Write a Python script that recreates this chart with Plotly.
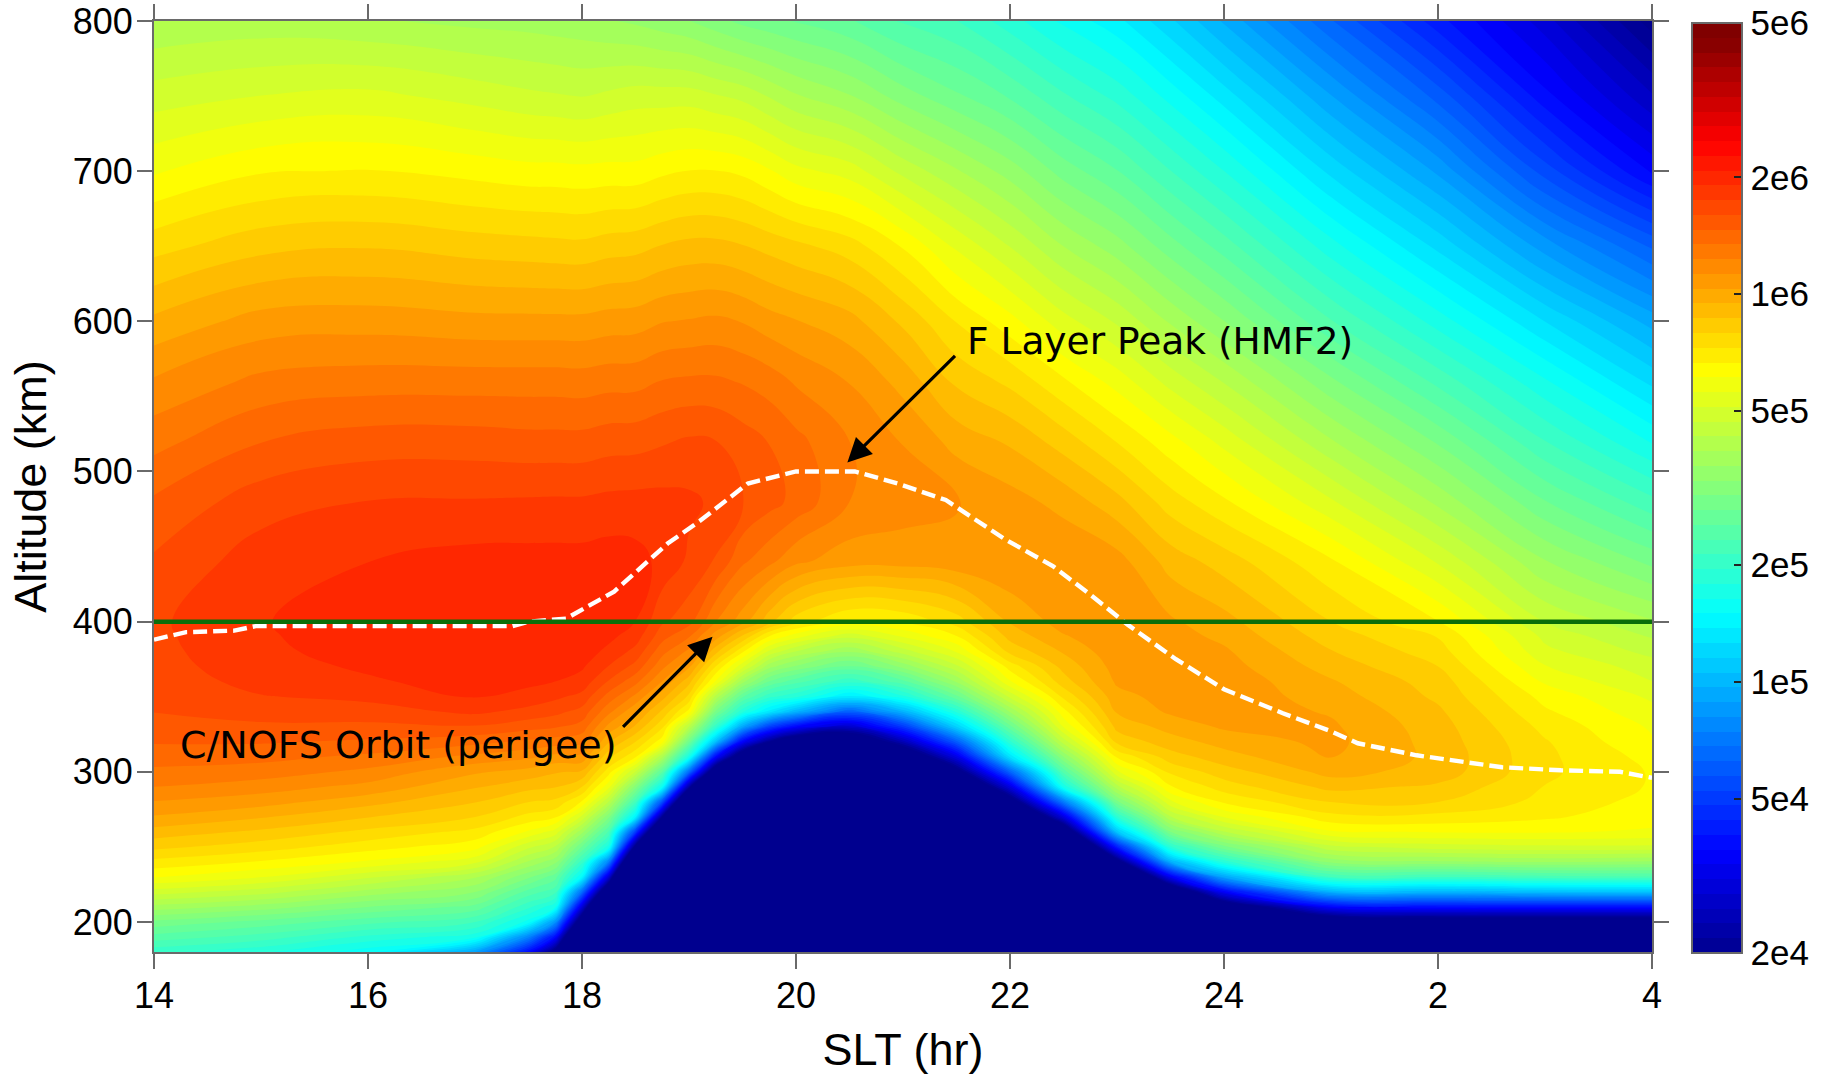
import numpy as np
import plotly.graph_objects as go

# local-time axis (hours after midnight of the first day: 24 = midnight, 26 = 2 h, 28 = 4 h)
slt = [14,15,16,17,17.5,17.75,18,18.25,18.5,18.75,19,19.25,19.5,19.75,20,20.5,21,21.5,22,22.5,23,23.5,24,25,26,27,28]
altitude = [180,190,200,210,220,230,240,250,260,270,280,290,300,310,320,330,340,350,360,370,380,390,400,
            440,480,520,560,600,650,700,750,800]

h14   = [5.30,5.39,5.47,5.58,5.69,5.79,5.85,5.91,5.96,6.01,6.05,6.09,6.12,6.145,6.17,6.19,6.205,6.213,6.22,6.226,6.23,6.233,6.235,6.21,6.172,6.115,6.057,5.985,5.885,5.78,5.69,5.60]
h15   = [5.26,5.35,5.43,5.54,5.65,5.75,5.82,5.88,5.93,5.98,6.03,6.07,6.11,6.14,6.17,6.197,6.22,6.24,6.255,6.265,6.272,6.276,6.278,6.262,6.225,6.165,6.10,6.03,5.925,5.82,5.71,5.61]
h16   = [5.19,5.28,5.38,5.48,5.58,5.68,5.78,5.84,5.89,5.94,5.99,6.04,6.08,6.12,6.16,6.195,6.225,6.252,6.275,6.286,6.295,6.298,6.30,6.28,6.243,6.185,6.11,6.035,5.935,5.826,5.72,5.60]
h17   = [4.95,5.23,5.33,5.43,5.52,5.60,5.72,5.80,5.85,5.90,5.94,5.98,6.02,6.08,6.14,6.20,6.25,6.283,6.295,6.305,6.31,6.313,6.315,6.295,6.245,6.185,6.11,6.026,5.92,5.81,5.695,5.585]
h175  = [4.58,4.88,5.20,5.30,5.39,5.49,5.59,5.68,5.78,5.85,5.90,5.95,6.00,6.06,6.12,6.18,6.23,6.265,6.29,6.305,6.315,6.318,6.315,6.295,6.247,6.18,6.11,6.025,5.915,5.80,5.68,5.58]
h1775 = [4.23,4.58,4.92,5.22,5.34,5.42,5.53,5.63,5.73,5.83,5.89,5.94,5.98,6.04,6.11,6.17,6.215,6.25,6.28,6.295,6.31,6.315,6.315,6.295,6.248,6.18,6.11,6.025,5.912,5.80,5.675,5.575]
h18   = [3.43,3.78,4.13,4.47,4.82,5.17,5.31,5.44,5.57,5.70,5.82,5.90,5.97,6.04,6.10,6.15,6.19,6.23,6.265,6.285,6.30,6.31,6.31,6.295,6.248,6.18,6.108,6.025,5.91,5.797,5.67,5.57]
h1825 = [3.00,3.00,3.23,3.64,4.05,4.46,4.87,5.23,5.36,5.49,5.63,5.76,5.84,5.91,5.98,6.04,6.10,6.15,6.20,6.24,6.27,6.29,6.30,6.30,6.253,6.188,6.114,6.032,5.92,5.80,5.68,5.56]
h185  = [3.00,3.00,3.00,3.00,3.00,3.36,3.80,4.25,4.70,5.15,5.34,5.50,5.67,5.83,5.90,5.97,6.02,6.08,6.14,6.19,6.23,6.26,6.28,6.295,6.255,6.19,6.115,6.035,5.925,5.80,5.69,5.55]
h1875 = [3.00,3.00,3.00,3.00,3.00,3.00,3.00,3.40,3.85,4.30,4.75,5.20,5.40,5.60,5.80,5.87,5.93,5.99,6.05,6.10,6.14,6.18,6.21,6.27,6.255,6.20,6.13,6.05,5.94,5.815,5.69,5.535]
h19   = [3.00,3.00,3.00,3.00,3.00,3.00,3.00,3.00,3.00,3.41,3.88,4.35,4.82,5.23,5.45,5.63,5.81,5.89,5.95,6.02,6.08,6.13,6.18,6.235,6.25,6.21,6.135,6.055,5.95,5.825,5.69,5.52]
h1925 = [3.00,3.00,3.00,3.00,3.00,3.00,3.00,3.00,3.00,3.00,3.22,3.67,4.12,4.57,5.02,5.30,5.47,5.62,5.78,5.86,5.95,6.03,6.09,6.20,6.235,6.205,6.135,6.06,5.95,5.825,5.675,5.495]
h195  = [3.00,3.00,3.00,3.00,3.00,3.00,3.00,3.00,3.00,3.00,3.00,3.32,3.73,4.14,4.55,4.96,5.26,5.41,5.57,5.72,5.83,5.93,6.03,6.135,6.205,6.185,6.125,6.05,5.94,5.815,5.66,5.47]
h1975 = [3.00,3.00,3.00,3.00,3.00,3.00,3.00,3.00,3.00,3.00,3.00,3.07,3.48,3.89,4.30,4.71,5.12,5.30,5.44,5.57,5.70,5.82,5.95,6.10,6.18,6.165,6.11,6.03,5.925,5.79,5.63,5.455]
h20   = [3.00,3.00,3.00,3.00,3.00,3.00,3.00,3.00,3.00,3.00,3.00,3.00,3.27,3.70,4.13,4.56,4.99,5.26,5.38,5.51,5.63,5.76,5.88,6.06,6.155,6.14,6.085,6.016,5.91,5.76,5.60,5.44]
h205  = [3.00,3.00,3.00,3.00,3.00,3.00,3.00,3.00,3.00,3.00,3.00,3.00,3.40,3.75,4.09,4.44,4.79,5.13,5.30,5.43,5.56,5.68,5.82,6.03,6.09,6.09,6.05,5.99,5.88,5.73,5.56,5.41]
h21   = [3.00,3.00,3.00,3.00,3.00,3.00,3.00,3.00,3.00,3.00,3.19,3.49,3.79,4.09,4.39,4.69,4.99,5.24,5.39,5.53,5.65,5.75,5.83,6.03,6.07,6.05,6.00,5.93,5.82,5.66,5.50,5.36]
h215  = [3.00,3.00,3.00,3.00,3.00,3.00,3.00,3.00,3.10,3.38,3.66,3.94,4.22,4.50,4.78,5.06,5.26,5.43,5.56,5.66,5.75,5.82,5.88,6.04,6.055,6.00,5.93,5.86,5.74,5.60,5.45,5.33]
h22   = [3.00,3.00,3.00,3.00,3.00,3.00,3.00,3.25,3.56,3.87,4.18,4.49,4.80,5.11,5.28,5.43,5.56,5.68,5.78,5.84,5.91,5.95,5.98,6.05,6.03,5.97,5.89,5.80,5.67,5.54,5.40,5.27]
h225  = [3.00,3.00,3.00,3.00,3.00,3.00,3.36,3.74,4.11,4.49,4.86,5.22,5.38,5.52,5.65,5.75,5.81,5.87,5.92,5.95,5.98,6.01,6.03,6.05,6.00,5.92,5.83,5.725,5.595,5.465,5.335,5.205]
h23   = [3.00,3.00,3.00,3.00,3.40,3.81,4.22,4.63,5.04,5.28,5.47,5.62,5.74,5.83,5.91,5.95,5.98,6.00,6.02,6.03,6.04,6.04,6.04,6.03,5.95,5.86,5.77,5.665,5.536,5.407,5.278,5.15]
h235  = [3.00,3.00,3.18,3.63,4.08,4.53,4.98,5.28,5.48,5.63,5.74,5.82,5.87,5.92,5.96,5.99,6.02,6.03,6.04,6.04,6.035,6.03,6.02,5.96,5.88,5.80,5.695,5.59,5.46,5.33,5.20,5.07]
h24   = [3.00,3.32,3.73,4.14,4.55,4.96,5.27,5.47,5.63,5.75,5.83,5.88,5.92,5.96,5.99,6.02,6.035,6.04,6.04,6.03,6.02,6.005,5.99,5.92,5.83,5.735,5.63,5.52,5.387,5.253,5.12,4.98]
h25   = [3.27,3.70,4.13,4.56,4.99,5.33,5.53,5.66,5.78,5.85,5.90,5.95,5.99,6.015,6.025,6.02,6.01,5.995,5.98,5.96,5.94,5.92,5.90,5.83,5.715,5.60,5.49,5.37,5.23,5.09,4.95,4.80]
h26   = [3.35,3.77,4.18,4.59,5.00,5.33,5.55,5.69,5.79,5.85,5.90,5.93,5.96,5.965,5.96,5.955,5.945,5.93,5.92,5.90,5.88,5.86,5.825,5.705,5.585,5.475,5.355,5.235,5.09,4.94,4.78,4.62]
h27   = [3.35,3.77,4.18,4.59,5.02,5.35,5.56,5.70,5.79,5.83,5.85,5.86,5.87,5.87,5.865,5.85,5.83,5.81,5.78,5.75,5.72,5.70,5.67,5.56,5.445,5.33,5.22,5.10,4.93,4.74,4.58,4.47]
h28   = [3.35,3.77,4.18,4.59,5.03,5.36,5.55,5.70,5.78,5.80,5.81,5.82,5.82,5.81,5.79,5.78,5.76,5.74,5.71,5.69,5.66,5.63,5.60,5.47,5.34,5.21,5.09,4.97,4.79,4.56,4.42,4.28]
columns = [h14,h15,h16,h17,h175,h1775,h18,h1825,h185,h1875,h19,h1925,h195,h1975,h20,h205,h21,h215,h22,h225,h23,h235,h24,h25,h26,h27,h28]

# F layer peak height
hmf2_slt = [14,14.3,14.75,14.95,17.35,17.5,17.85,18.3,18.8,19.1,19.55,20,20.55,20.95,21.4,21.95,22.4,22.75,23.1,23.55,24,24.55,25,25.25,25.8,26.2,26.6,27.15,27.7,28]
hmf2_alt = [388,393,394,397,397,400,402,420,452,467,492,500,500,492,481,455,437,418,398,375,355,339,327,319,311,307,303,301,300,296]

orbit_slt = [14,28]
orbit_alt = [400,400]

x_ticks = [14,16,18,20,22,24,26,28]
x_labels = ["14","16","18","20","22","24","2","4"]
y_ticks = [200,300,400,500,600,700,800]
cb_values = [2e4,5e4,1e5,2e5,5e5,1e6,2e6,5e6]
cb_labels = ["2e4","5e4","1e5","2e5","5e5","1e6","2e6","5e6"]

lo, hi = np.log10(2e4), np.log10(5e6)
jet = [[0,"#00008f"],[0.11,"#0000ff"],[0.37,"#00ffff"],[0.635,"#ffff00"],[0.885,"#ff0000"],[1,"#800000"]]
FONT = "Liberation Sans"
TEXTFONT = "DejaVu Sans"
GREY = "#6a6a6a"

fig = go.Figure()
fig.add_trace(go.Contour(
    x=slt, y=altitude, z=np.array(columns).T,
    colorscale=jet, zmin=lo, zmax=hi, autocontour=False,
    contours=dict(start=lo, end=hi, size=(hi-lo)/63, coloring="fill", showlines=False),
    line=dict(width=0, smoothing=1.3),
    hoverinfo="skip",
    colorbar=dict(
        x=(1692-153.8)/1498.2, xanchor="left", xpad=0, ypad=0,
        y=-0.001, yanchor="bottom", len=0.999, lenmode="fraction",
        thickness=50, thicknessmode="pixels",
        tickmode="array", tickvals=np.log10(cb_values).tolist(), ticktext=cb_labels,
        ticks="inside", ticklen=9, tickwidth=2, tickcolor="#222222",
        tickfont=dict(family=FONT, size=35, color="black"),
        outlinecolor=GREY, outlinewidth=2,
    ),
))
fig.add_trace(go.Scatter(x=hmf2_slt, y=hmf2_alt, mode="lines",
    line=dict(color="white", width=4.4, dash="14px,6px"), hoverinfo="skip", showlegend=False))
fig.add_trace(go.Scatter(x=orbit_slt, y=orbit_alt, mode="lines",
    line=dict(color="#0a6e0a", width=4.5), hoverinfo="skip", showlegend=False))

axis = dict(showgrid=False, zeroline=False, showline=True, linecolor=GREY, linewidth=2,
            mirror="ticks", ticks="outside", ticklen=15, tickwidth=2, tickcolor=GREY,
            tickfont=dict(family=FONT, size=36, color="black"))
fig.update_layout(
    width=1827, height=1078,
    margin=dict(l=153.8, r=175, t=21, b=126, autoexpand=False),
    paper_bgcolor="white", plot_bgcolor="white", showlegend=False,
    xaxis=dict(axis, range=[14,28], tickmode="array", tickvals=x_ticks, ticktext=x_labels,
               ticklabelstandoff=-4,
               title=dict(text="SLT (hr)", font=dict(family=FONT, size=45, color="black"), standoff=18)),
    yaxis=dict(axis, range=[180,800], tickmode="array", tickvals=y_ticks,
               ticklabelstandoff=-3,
               title=dict(text="Altitude (km)", font=dict(family=FONT, size=45, color="black"), standoff=12)),
    annotations=[
        dict(x=21.58, y=587, xref="x", yref="y", text="F Layer Peak (HMF2)", showarrow=False,
             xanchor="left", yanchor="middle", font=dict(family=TEXTFONT, size=37.5, color="black")),
        dict(x=14.22, y=318, xref="x", yref="y", text="C/NOFS Orbit (perigee)", showarrow=False,
             xanchor="left", yanchor="middle", font=dict(family=TEXTFONT, size=38, color="black")),
        dict(x=20.48, y=506, ax=21.5, ay=578, xref="x", yref="y", axref="x", ayref="y", text="",
             showarrow=True, arrowhead=2, arrowsize=1.5, arrowwidth=3.2, arrowcolor="black"),
        dict(x=19.22, y=390, ax=18.37, ay=329, xref="x", yref="y", axref="x", ayref="y", text="",
             showarrow=True, arrowhead=2, arrowsize=1.5, arrowwidth=3.2, arrowcolor="black"),
    ],
    # left-hand ticks of the colour bar, placed from the same tick values
    shapes=[dict(type="line", xref="paper", yref="paper",
                 x0=(1692-153.8)/1498.2, x1=(1701-153.8)/1498.2,
                 y0=(np.log10(v)-lo)/(hi-lo)*0.999-0.001, y1=(np.log10(v)-lo)/(hi-lo)*0.999-0.001,
                 line=dict(color="#222222", width=2)) for v in cb_values[1:-1]],
)
fig.write_html("out.html", config={"displayModeBar": False},
               post_script="document.body.style.margin='0';document.body.style.overflow='hidden';")
